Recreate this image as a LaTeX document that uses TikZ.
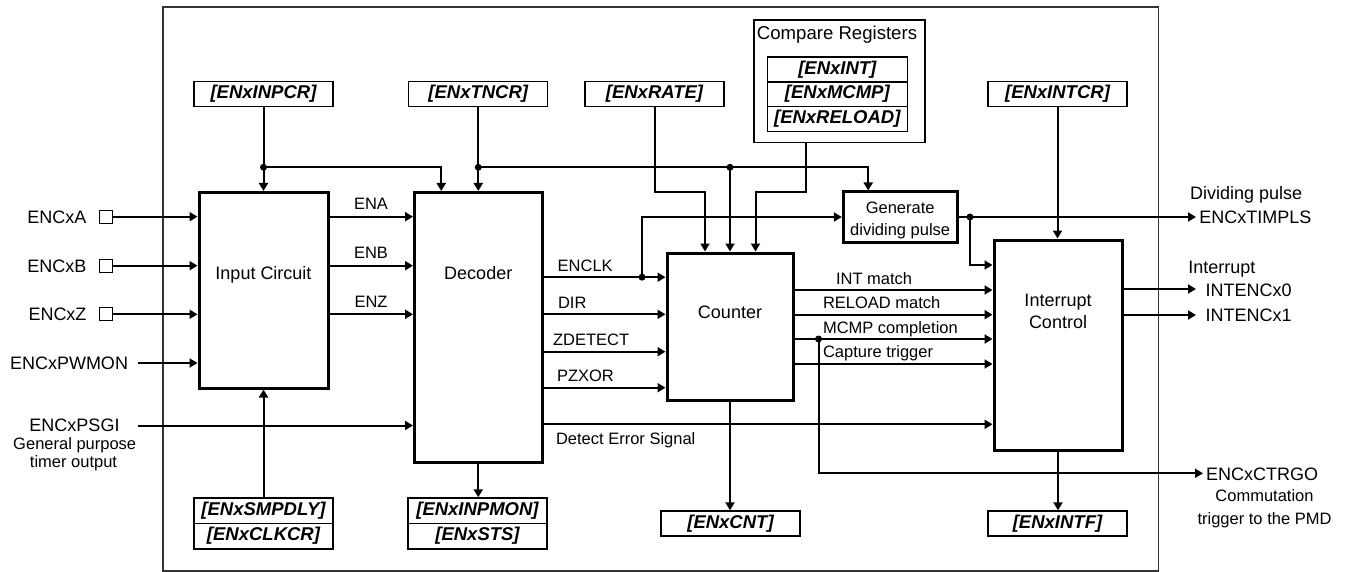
\documentclass[tikz,border=0pt]{standalone}
\usepackage{fontspec}
\setmainfont{Liberation Sans}
\usetikzlibrary{arrows.meta}
\begin{document}
\begin{tikzpicture}[x=1pt,y=-1pt,
  bigf/.style={font=\fontsize{18}{21}\selectfont},
  smallf/.style={font=\fontsize{16.5}{19}\selectfont},
  txt/.style={inner sep=0pt, outer sep=0pt},
  blk/.style={draw, line width=3pt, inner sep=0pt},
  reg/.style={draw, line width=1.4pt, minimum width=139pt, minimum height=25pt, inner sep=0pt,
              font=\fontsize{18.5}{21}\selectfont\bfseries\itshape},
  wire/.style={line width=2pt},
  arr/.style={wire, -{Triangle[length=8pt,width=9pt]}},
  jdot/.style={circle, fill, inner sep=0pt, minimum size=7pt},
  pinbox/.style={draw, line width=1.3pt, minimum size=13pt, inner sep=0pt},
]
\useasboundingbox (0,0) rectangle (1346,572);
% outer frame
\draw[line width=1.2pt, black!80] (163,7) rectangle (1158.5,571);

% blocks
\node[blk, minimum width=129pt, minimum height=195.5pt] (inc) at (263.5,290.25) {};
\node[blk, minimum width=127.5pt, minimum height=269.5pt] (dec) at (478.25,327.25) {};
\node[blk, minimum width=126pt, minimum height=147pt] (ctr) at (730,326.5) {};
\node[blk, minimum width=113.7pt, minimum height=50pt] (gdp) at (900.2,217) {};
\node[blk, minimum width=128pt, minimum height=210pt] (ic) at (1058,345) {};

\node[txt, bigf, anchor=base] (inctxt) at (263.5,279.5) {Input Circuit};
\node[txt, bigf, anchor=base] (dectxt) at (478.25,279.3) {Decoder};
\node[txt, bigf, anchor=base] (ctrtxt) at (730,318.3) {Counter};
\node[txt, smallf, anchor=base] (gdptxta) at (900.2,213.3) {Generate};
\node[txt, smallf, anchor=base] (gdptxtb) at (900.2,236) {dividing pulse};
\node[txt, bigf, anchor=base] (ictxta) at (1058,306.7) {Interrupt};
\node[txt, bigf, anchor=base] (ictxtb) at (1058,328.3) {Control};

% registers
\node[reg] (inpcr) at (263.5,94) {[ENxINPCR]};
\node[reg] (tncr) at (478.25,94) {[ENxTNCR]};
\node[reg] (rate) at (654.5,94) {[ENxRATE]};
\node[reg] (intcr) at (1057.5,94) {[ENxINTCR]};
\node[draw, line width=1.4pt, minimum width=171pt, minimum height=122.7pt, inner sep=0pt] (cmp) at (839.5,81.35) {};
\node[txt, font=\fontsize{18.6}{21}\selectfont, anchor=base] (cmptxt) at (837,39.8) {Compare Registers};
\node[reg, minimum width=140pt, minimum height=24.7pt] (rint) at (837.3,69.5) {[ENxINT]};
\node[reg, minimum width=140pt, minimum height=24.7pt] (rmcmp) at (837.3,94.2) {[ENxMCMP]};
\node[reg, minimum width=140pt, minimum height=24.7pt] (rreload) at (837.3,118.9) {[ENxRELOAD]};
\node[reg, minimum height=25.5pt] (smpdly) at (263.5,510.7) {[ENxSMPDLY]};
\node[reg, minimum height=25.5pt] (clkcr) at (263.5,536.2) {[ENxCLKCR]};
\node[reg, minimum height=25.5pt] (inpmon) at (477.5,510.7) {[ENxINPMON]};
\node[reg, minimum height=25.5pt] (sts) at (477.5,536.2) {[ENxSTS]};
\node[reg] (cnt) at (730.5,523.5) {[ENxCNT]};
\node[reg] (intf) at (1057.5,523.5) {[ENxINTF]};

% input pins and labels
\node[pinbox] (pinA) at (105.7,216.7) {};
\node[pinbox] (pinB) at (105.7,265.7) {};
\node[pinbox] (pinZ) at (105.7,314.3) {};
\node[txt, bigf, anchor=base east] (lA) at (86.5,223.2) {ENCxA};
\node[txt, bigf, anchor=base east] (lB) at (86.5,272.2) {ENCxB};
\node[txt, bigf, anchor=base east] (lZ) at (86.5,320.8) {ENCxZ};
\node[txt, bigf, anchor=base east] (lpwm) at (128,369.5) {ENCxPWMON};
\node[txt, bigf, anchor=base] (lpsgi) at (74.5,431.9) {ENCxPSGI};
\node[txt, smallf, anchor=base] (lgp1) at (74.7,449.5) {General purpose};
\node[txt, smallf, anchor=base] (lgp2) at (73.5,467) {timer output};
\coordinate (pwm) at (138,363);
\coordinate (psgi) at (138,425.5);

\draw[arr] (pinA.east) -- (inc.west |- pinA.east);
\draw[arr] (pinB.east) -- (inc.west |- pinB.east);
\draw[arr] (pinZ.east) -- (inc.west |- pinZ.east);
\draw[arr] (pwm) -- (inc.west |- pwm);
\draw[arr] (psgi) -- (dec.west |- psgi);

% input circuit -> decoder
\draw[arr] (inc.east |- pinA) -- (dec.west |- pinA);
\draw[arr] (inc.east |- pinB) -- (dec.west |- pinB);
\draw[arr] (inc.east |- pinZ) -- (dec.west |- pinZ);
\node[txt, smallf, anchor=base] (lENA) at (371,210) {ENA};
\node[txt, smallf, anchor=base] (lENB) at (371,258.3) {ENB};
\node[txt, smallf, anchor=base] (lENZ) at (371,307.3) {ENZ};

% top register connections
\node[jdot] (d1) at (263.5,167.3) {};
\node[jdot] (d2) at (478.25,167.3) {};
\node[jdot] (d3) at (730,167.3) {};
\draw[arr] (inpcr.south) -- (inc.north);
\draw[arr] (d1.center) -| ([xshift=-37pt]dec.north);
\draw[arr] (tncr.south) -- (dec.north);
\draw[arr] (d2.center) -| ([xshift=-32pt]gdp.north);
\draw[arr] (d3.center) -- (ctr.north);
\draw[arr] (rate.south) |- ([xshift=-25pt]ctr.north |- 0,191.7) -- ([xshift=-25pt]ctr.north);
\draw[arr] ([xshift=-34pt]cmp.south) |- ([xshift=25.5pt]ctr.north |- 0,191.7) -- ([xshift=25.5pt]ctr.north);
\draw[arr] (intcr.south) -- (intcr.south |- ic.north);

% bottom register connections
\draw[arr] (smpdly.north) -- (inc.south);
\draw[arr] (dec.south) -- (dec.south |- inpmon.north);
\draw[arr] (ctr.south) -- (ctr.south |- cnt.north);
\draw[arr] (ic.south) -- (ic.south |- intf.north);

% decoder -> counter
\node[jdot] (d4) at (642,277.2) {};
\draw[arr] (dec.east |- d4) -- (ctr.west |- d4);
\draw[arr] (d4.center) |- (gdp.west);
\draw[arr] (dec.east |- 0,314.3) -- (ctr.west |- 0,314.3);
\draw[arr] (dec.east |- 0,351.7) -- (ctr.west |- 0,351.7);
\draw[arr] (dec.east |- 0,387.7) -- (ctr.west |- 0,387.7);
\draw[arr] (dec.east |- 0,424.3) -- (ic.west |- 0,424.3);
\node[txt, smallf, anchor=base west] (lclk) at (557.7,271.7) {ENCLK};
\node[txt, smallf, anchor=base west] (ldir) at (558,308.3) {DIR};
\node[txt, smallf, anchor=base west] (lzd) at (553,345) {ZDETECT};
\node[txt, smallf, anchor=base west] (lpz) at (557,381.7) {PZXOR};
\node[txt, smallf, anchor=base west] (lerr) at (556,444) {Detect Error Signal};

% counter -> interrupt control
\draw[arr] (ctr.east |- 0,290) -- (ic.west |- 0,290);
\draw[arr] (ctr.east |- 0,314.7) -- (ic.west |- 0,314.7);
\draw[arr] (ctr.east |- 0,339) -- (ic.west |- 0,339);
\draw[arr] (ctr.east |- 0,364) -- (ic.west |- 0,364);
\node[txt, smallf, anchor=base west] (lint) at (836,284) {INT match};
\node[txt, smallf, anchor=base west] (lrel) at (823,308) {RELOAD match};
\node[txt, smallf, anchor=base west] (lmcmp) at (823,333.3) {MCMP completion};
\node[txt, smallf, anchor=base west] (lcap) at (823,357.7) {Capture trigger};
\node[jdot] (d5) at (818.5,339) {};
\coordinate (ctrgo) at (1203,473.3);
\draw[arr] (d5.center) |- (ctrgo);
\node[txt, bigf, anchor=base west] (lctrgo) at (1206,480.7) {ENCxCTRGO};
\node[txt, smallf, anchor=base] (lcom1) at (1264.5,501) {Commutation};
\node[txt, smallf, anchor=base] (lcom2) at (1264.5,524) {trigger to the PMD};

% dividing pulse output
\coordinate (timpls) at (1196,217);
\node[jdot] (d6) at (970,217) {};
\draw[arr] (gdp.east) -- (timpls);
\draw[arr] (d6.center) |- (ic.west |- 0,265);
\node[txt, bigf, anchor=base west] (ldiv) at (1190,199.3) {Dividing pulse};
\node[txt, bigf, anchor=base west] (ltimpls) at (1199.3,223.3) {ENCxTIMPLS};

% interrupt outputs
\coordinate (int0) at (1196,289);
\coordinate (int1) at (1196,315);
\draw[arr] (ic.east |- int0) -- (int0);
\draw[arr] (ic.east |- int1) -- (int1);
\node[txt, bigf, anchor=base west] (lirq) at (1188.3,273.3) {Interrupt};
\node[txt, bigf, anchor=base west] (lint0) at (1205.7,296.7) {INTENCx0};
\node[txt, bigf, anchor=base west] (lint1) at (1205.7,321.7) {INTENCx1};
\end{tikzpicture}
\end{document}
